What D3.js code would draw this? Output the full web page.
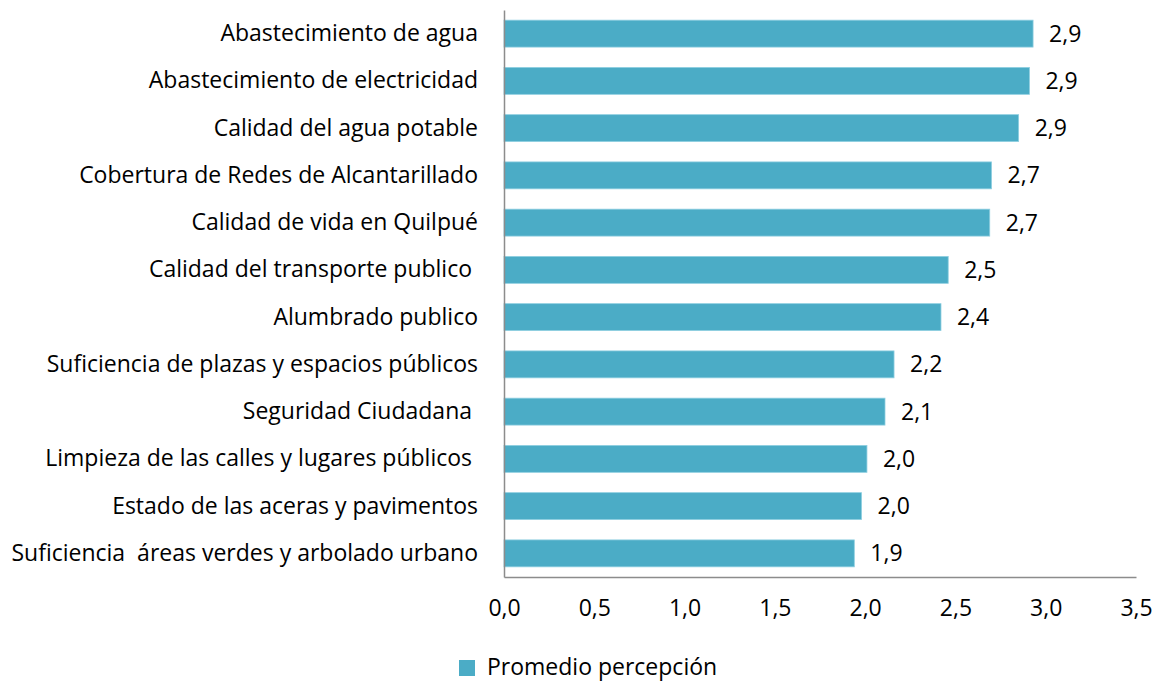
<!DOCTYPE html>
<html>
<head>
<meta charset="utf-8">
<script src="https://cdn.jsdelivr.net/npm/d3@7"></script>
<style>
  body { margin: 0; background: #fff; overflow: hidden; }
  svg { display: block; }
  svg text { font-family: "Open Sans", sans-serif; fill: #000; }
  .axis path { stroke: #8c8c8c; stroke-width: 1.5; }
</style>
</head>
<body>
<div id="chart"></div>
<script>
// categories, top to bottom
var categories = [
    "Abastecimiento de agua",
    "Abastecimiento de electricidad",
    "Calidad del agua potable",
    "Cobertura de Redes de Alcantarillado",
    "Calidad de vida en Quilpué",
    "Calidad del transporte publico ",
    "Alumbrado publico",
    "Suficiencia de plazas y espacios públicos",
    "Seguridad Ciudadana ",
    "Limpieza de las calles y lugares públicos ",
    "Estado de las aceras y pavimentos",
    "Suficiencia  áreas verdes y arbolado urbano"
];
// promedio percepcion
var values = [2.93, 2.91, 2.85, 2.70, 2.69, 2.46, 2.42, 2.16, 2.11, 2.01, 1.98, 1.94];
var xTicks = [0, 0.5, 1, 1.5, 2, 2.5, 3, 3.5];
var seriesName = "Promedio percepción";

var W = 1158, H = 682;
var margin = { top: 10, right: 22, bottom: 105, left: 504 };
var w = W - margin.left - margin.right,
    h = H - margin.top - margin.bottom;
var fs = "23px";

var fmt = function (v) { return v.toFixed(1).replace(".", ","); };

var svg = d3.select("#chart").append("svg")
    .attr("width", W)
    .attr("height", H);

var g = svg.append("g")
    .attr("transform", "translate(" + margin.left + "," + margin.top + ")");

var xScale = d3.scaleLinear().domain([0, 3.5]).range([0, w]);
var yScale = d3.scaleBand().domain(categories).range([0, h]).paddingInner(0.43).paddingOuter(0.215);

var data = categories.map(function (c, i) { return { cat: c, val: values[i] }; });

// bars
g.selectAll(".bar")
    .data(data).enter()
    .append("rect")
    .attr("class", "bar")
    .attr("x", 0)
    .attr("y", function (d) { return yScale(d.cat); })
    .attr("width", function (d) { return xScale(d.val); })
    .attr("height", yScale.bandwidth())
    .attr("fill", "#4bacc6")
    .attr("stroke", "#8fcfe0")
    .attr("stroke-width", 0.8);

// value labels
g.selectAll(".lbl")
    .data(data).enter()
    .append("text")
    .attr("class", "lbl")
    .attr("x", function (d) { return xScale(d.val) + 16; })
    .attr("y", function (d) { return yScale(d.cat) + yScale.bandwidth() / 2; })
    .attr("dy", "0.35em")
    .style("font-size", fs)
    .text(function (d) { return fmt(d.val); });

// x axis
var xAxis = g.append("g")
    .attr("class", "axis")
    .attr("transform", "translate(0," + h + ")")
    .call(d3.axisBottom(xScale).tickValues(xTicks).tickSize(0).tickPadding(23).tickFormat(fmt));
xAxis.selectAll("text").style("font-size", fs);

// y axis
var yAxis = g.append("g")
    .attr("class", "axis")
    .call(d3.axisLeft(yScale).tickSize(0).tickPadding(26));
yAxis.selectAll("text").style("font-size", fs)
    .attr("xml:space", "preserve").style("white-space", "pre");

// legend
var leg = svg.append("g").attr("transform", "translate(459,660)");
leg.append("rect").attr("width", 16).attr("height", 16).attr("fill", "#4bacc6");
leg.append("text").attr("x", 28).attr("y", 8).attr("dy", "0.3em")
    .style("font-size", fs).text(seriesName);
</script>
</body>
</html>
